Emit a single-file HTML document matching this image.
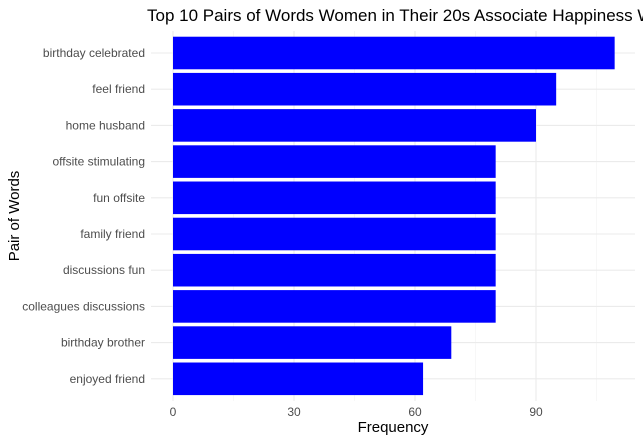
<!DOCTYPE html>
<html><head><meta charset="utf-8"><style>
body{margin:0;background:#fff;width:643px;height:442px;overflow:hidden;font-family:"Liberation Sans",sans-serif}
</style></head><body>
<svg id="chart" width="643" height="442" xmlns="http://www.w3.org/2000/svg">
<text x="147" y="21" font-size="17" fill="#000">Top 10 Pairs of Words Women in Their 20s Associate Happiness With</text>
<g id="grid"></g><g id="bars"></g><g id="ylabels"></g><g id="xlabels"></g>
<text x="393" y="432" font-size="15" text-anchor="middle" fill="#000">Frequency</text>
<text transform="translate(19,216) rotate(-90)" font-size="15" text-anchor="middle" fill="#000">Pair of Words</text>
</svg>
<script>
const categories=["birthday celebrated","feel friend","home husband","offsite stimulating","fun offsite","family friend","discussions fun","colleagues discussions","birthday brother","enjoyed friend"];
const values=[109.5,95,90,80,80,80,80,80,69,62];
const xTicks=[0,30,60,90];
const xMinor=[15,45,75,105];
const ns="http://www.w3.org/2000/svg";
const x0=173,pxPer=121/30,yTop=53,rowH=36.2,panelLeft=151,panelRight=635,panelTop=31,panelBottom=401;
const sx=v=>x0+v*pxPer, sy=i=>yTop+i*rowH;
function mk(t,a,p){const e=document.createElementNS(ns,t);for(const k in a)e.setAttribute(k,a[k]);p.appendChild(e);return e;}
const gridG=document.getElementById('grid');
xMinor.forEach(v=>{const l=mk('line',{x1:sx(v),x2:sx(v),y1:panelTop,y2:panelBottom,stroke:'#f2f2f2','stroke-width':0.6},gridG);

});
xTicks.forEach(v=>{const l=mk('line',{x1:sx(v),x2:sx(v),y1:panelTop,y2:panelBottom,stroke:'#ebebeb','stroke-width':1.1},gridG);


const t=mk('text',{x:sx(v),y:416,'font-size':12,'text-anchor':'middle',fill:'#4d4d4d'},document.getElementById('xlabels'));t.textContent=v;

});
categories.forEach((c,i)=>{const l=mk('line',{x1:panelLeft,x2:panelRight,y1:sy(i),y2:sy(i),stroke:'#ebebeb','stroke-width':1.1},gridG);

});
categories.forEach((c,i)=>{const r=mk('rect',{x:sx(0),y:sy(i)-rowH*0.45,width:sx(values[i])-sx(0),height:rowH*0.9,fill:'#0000ff'},document.getElementById('bars'));


const t=mk('text',{x:145,y:sy(i)+4,'font-size':12,'text-anchor':'end',fill:'#4d4d4d'},document.getElementById('ylabels'));t.textContent=c;

});
</script>
</body></html>
